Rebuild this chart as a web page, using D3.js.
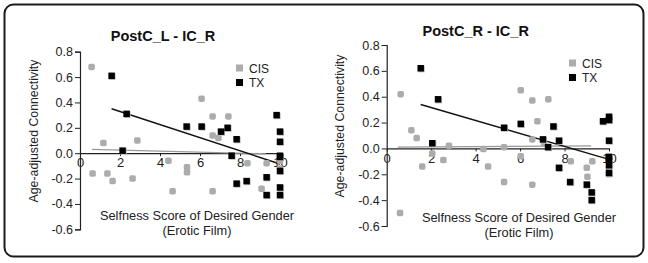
<!DOCTYPE html>
<html>
<head>
<meta charset="utf-8">
<script src="https://cdn.jsdelivr.net/npm/d3@7"></script>
<style>
  body { margin: 0; background: #fff; }
  svg { display: block; font-family: "Liberation Sans", Arial, sans-serif; }
</style>
</head>
<body>
<svg id="canvas" width="648" height="263"></svg>
<script>
// values
const xTicks = [0, 2, 4, 6, 8, 10]
const yTicks = [-0.6, -0.4, -0.2, 0, 0.2, 0.4, 0.6, 0.8]
const seriesNames = ['CIS', 'TX']

const leftTitle = 'PostC_L - IC_R'
const leftCis = [[0.58, 0.68], [1.17, 0.08], [2.87, 0.10], [0.63, -0.16], [1.37, -0.16], [1.63, -0.22],
  [2.63, -0.20], [4.42, -0.06], [4.63, -0.30], [5.35, -0.11], [5.35, -0.15], [6.08, 0.43], [6.63, 0.29],
  [7.42, 0.29], [6.63, 0.14], [6.92, 0.12], [6.63, -0.30], [8.37, -0.08], [9.33, -0.08], [9.08, -0.28],
  [10, -0.06], [10, -0.12]]
const leftTx = [[1.58, 0.61], [2.33, 0.31], [2.13, 0.02], [5.33, 0.21], [6.08, 0.21], [7.05, 0.17],
  [7.38, 0.20], [7.83, 0.11], [7.58, -0.02], [7.83, -0.24], [8.33, -0.22], [9.33, -0.19], [9.33, -0.33],
  [9.83, 0.30], [10, 0.17], [10, 0.09], [10, -0.02], [10, -0.03], [10, -0.14], [10, -0.27], [10, -0.33]]
const leftCisTrend = [[0.6, 0.03], [9.3, -0.005]]
const leftTxTrend = [[1.58, 0.35], [10, -0.085]]

const rightTitle = 'PostC_R - IC_R'
const rightCis = [[0.63, 0.42], [1.11, 0.14], [1.35, 0.08], [1.6, -0.14], [0.6, -0.50], [2.05, -0.04],
  [2.55, -0.09], [2.8, 0.02], [4.35, -0.005], [4.56, -0.14], [5.28, 0.01], [5.28, -0.26], [6.03, 0.45],
  [6.03, -0.06], [6.55, 0.37], [6.55, 0.07], [6.55, -0.28], [6.78, 0.21], [7.27, 0.38], [7.08, 0.04],
  [8.28, -0.10], [9.0, -0.15], [9.25, -0.10], [9.03, -0.22], [10, -0.15], [10, -0.20], [10, 0.23]]
const rightTx = [[1.53, 0.62], [2.31, 0.38], [2.05, 0.04], [5.28, 0.16], [6.03, 0.19], [7.03, 0.07],
  [7.5, 0.17], [7.26, 0.01], [7.75, 0.06], [7.75, -0.15], [8.25, -0.26], [9.0, -0.28], [9.22, -0.34],
  [9.22, -0.40], [9.73, 0.21], [10, 0.245], [10, 0.22], [10, 0.06], [10, -0.065], [10, -0.09],
  [10, -0.13], [10, -0.19]]
const rightCisTrend = [[0.5, 0.01], [9.2, 0.02]]
const rightTxTrend = [[1.53, 0.34], [10, -0.085]]

const svg = d3.select('#canvas')

let defs = svg.append('defs')
defs.append('filter').attr('id', 'soft')
  .append('feGaussianBlur').attr('stdDeviation', 0.5)

// outer frame
svg.append('rect')
  .attr('x', 4.5).attr('y', 4.5)
  .attr('width', 639).attr('height', 252)
  .attr('rx', 9)
  .attr('fill', '#fff')
  .attr('stroke', '#1a1a1a')
  .attr('stroke-width', 2)

let drawPanel = (opt) => {
  let x = d3.scaleLinear().domain([0, 10]).range([opt.x0, opt.x1])
  let y = d3.scaleLinear().domain([-0.6, 0.8]).range([opt.yBottom, opt.yTop])
  let g = svg.append('g')

  // y axis
  let yAxis = d3.axisLeft(y).tickValues(yTicks).tickSize(5).tickFormat(d3.format('.1f'))
  let ya = g.append('g').attr('transform', 'translate(' + opt.x0 + ',0)').call(yAxis)
  ya.select('.domain').attr('stroke', '#222').attr('stroke-width', 1.2)
  ya.selectAll('.tick line').attr('stroke', '#222')
  ya.selectAll('text').attr('font-size', 12.5).attr('fill', '#222').attr('x', -7)
    .text(d => d3.format('.1f')(d).replace('−', '-'))

  // x axis sits on the zero line
  let xAxis = d3.axisBottom(x).tickValues(xTicks).tickSize(3).tickSizeOuter(0).tickFormat(d3.format('d'))
  let xa = g.append('g').attr('transform', 'translate(0,' + y(0) + ')').call(xAxis)
  xa.select('.domain').attr('stroke', '#222').attr('stroke-width', 1.2)
  xa.selectAll('.tick line').attr('stroke', '#222')
  xa.selectAll('text').attr('font-size', 13).attr('fill', '#222').attr('y', 5)

  // trend lines
  let line = d3.line().x(d => x(d[0])).y(d => y(d[1]))
  g.append('path').attr('d', line(opt.cisTrend))
    .attr('stroke', '#999').attr('stroke-width', 1.3).attr('fill', 'none')
  g.append('path').attr('d', line(opt.txTrend))
    .attr('stroke', '#111').attr('stroke-width', 1.4).attr('fill', 'none')

  let s = 6.5
  g.append('g').attr('filter', 'url(#soft)')
    .selectAll('rect').data(opt.cis).enter().append('rect')
    .attr('x', d => x(d[0]) - s / 2).attr('y', d => y(d[1]) - s / 2)
    .attr('width', s).attr('height', s).attr('rx', 1.8)
    .attr('fill', '#acacac')
  g.append('g')
    .selectAll('rect').data(opt.tx).enter().append('rect')
    .attr('x', d => x(d[0]) - s / 2 + 0.8).attr('y', d => y(d[1]) - s / 2 + 0.8)
    .attr('width', s).attr('height', s)
    .attr('fill', '#bbb').attr('filter', 'url(#soft)')
  g.append('g')
    .selectAll('rect').data(opt.tx).enter().append('rect')
    .attr('x', d => x(d[0]) - s / 2).attr('y', d => y(d[1]) - s / 2)
    .attr('width', s).attr('height', s)
    .attr('fill', '#000')

  // title
  g.append('text').text(opt.title)
    .attr('x', opt.titleX).attr('y', opt.titleY)
    .attr('text-anchor', 'middle')
    .attr('font-size', 14.5).attr('font-weight', 'bold').attr('fill', '#111')

  // legend
  let leg = g.append('g').attr('transform', 'translate(' + opt.legX + ',' + opt.legY + ')')
  seriesNames.forEach((name, i) => {
    leg.append('rect').attr('x', 0).attr('y', i * 14.5 - 3.5)
      .attr('width', 7).attr('height', 7)
      .attr('fill', i === 0 ? '#acacac' : '#000')
    leg.append('text').text(name)
      .attr('x', 13).attr('y', i * 14.5 + 4.5)
      .attr('font-size', 12).attr('fill', '#222')
  })

  // axis titles
  g.append('text').text('Age-adjusted Connectivity')
    .attr('transform', 'translate(' + opt.yLabX + ',' + opt.yLabY + ') rotate(-90)')
    .attr('text-anchor', 'middle').attr('font-size', 12.3).attr('fill', '#222')
  g.append('text').text('Selfness Score of Desired Gender')
    .attr('x', opt.xLabX).attr('y', opt.xLabY)
    .attr('text-anchor', 'middle').attr('font-size', 12.8).attr('fill', '#222')
  g.append('text').text('(Erotic Film)')
    .attr('x', opt.xLabX).attr('y', opt.xLabY + 14.5)
    .attr('text-anchor', 'middle').attr('font-size', 12.8).attr('fill', '#222')
}

drawPanel({
  title: leftTitle, cis: leftCis, tx: leftTx, cisTrend: leftCisTrend, txTrend: leftTxTrend,
  x0: 80, x1: 280, yTop: 51.7, yBottom: 229.3,
  titleX: 163, titleY: 41, legX: 236, legY: 68,
  yLabX: 38, yLabY: 131, xLabX: 197, xLabY: 220
})
drawPanel({
  title: rightTitle, cis: rightCis, tx: rightTx, cisTrend: rightCisTrend, txTrend: rightTxTrend,
  x0: 386.7, x1: 609, yTop: 45, yBottom: 226,
  titleX: 475.7, titleY: 36, legX: 569, legY: 63,
  yLabX: 344, yLabY: 126, xLabX: 519, xLabY: 222
})
</script>
</body>
</html>
